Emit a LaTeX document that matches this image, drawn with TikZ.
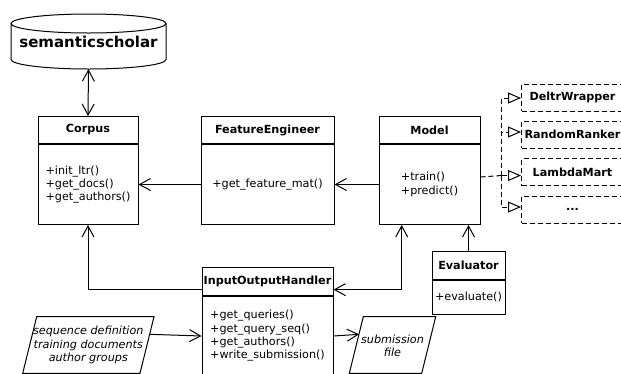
\documentclass[tikz,border=0pt]{standalone}
\usepackage{fontspec}
\setmainfont{DejaVu Sans}
\usetikzlibrary{arrows.meta,calc}

\tikzset{
  txt/.style={font=\fontsize{11.2}{13.3}\selectfont},
  hdr/.style={draw, line width=1pt, fill=white, inner sep=0pt, anchor=north,
    minimum height=27pt, font=\fontsize{11.2}{13.3}\selectfont\bfseries},
  bdy/.style={draw, line width=1pt, fill=white, inner sep=0pt, anchor=north,
    align=left, font=\fontsize{11.2}{13.3}\selectfont},
  subcls/.style={draw, line width=1pt, dash pattern=on 5pt off 3pt, fill=white,
    inner sep=0pt, anchor=west, minimum width=102pt, minimum height=27pt,
    font=\fontsize{11.2}{13.3}\selectfont\bfseries},
  iotxt/.style={inner sep=0pt, align=center,
    font=\fontsize{11.2}{13.3}\selectfont\itshape},
  arr/.style={line width=1pt, -{Straight Barb[length=11pt,width=12pt]}},
  dblarr/.style={line width=1pt,
    {Straight Barb[length=11pt,width=12pt]}-{Straight Barb[length=11pt,width=12pt]}},
  inherit/.style={line width=1pt, dash pattern=on 5pt off 3pt,
    -{Triangle[open,length=13pt,width=11pt]}},
  dashln/.style={line width=1pt, dash pattern=on 5pt off 3pt},
}

\begin{document}
\begin{tikzpicture}[x=1pt,y=-1pt]
\useasboundingbox (0,0) rectangle (621,373);
\fill[white] (0,0) rectangle (621,373);

% database cylinder
\draw[line width=1pt, fill=white] (11,23.5) -- (11,59.5)
  arc[start angle=180, end angle=0, x radius=77.5, y radius=9.5] -- (166,23.5);
\draw[line width=1pt, fill=white] (88.5,23.5) ellipse [x radius=77.5, y radius=9.5];
\node[inner sep=0pt, minimum width=155pt, minimum height=54.5pt,
  font=\fontsize{15}{18}\selectfont\bfseries] (db) at (88.5,41.75) {semanticscholar};

% classes
\node[hdr, minimum width=100pt] (corpus) at (88,116) {Corpus};
\node[bdy, minimum width=100pt, minimum height=80pt] (corpusb) at (corpus.south)
  {+init\_ltr()\\+get\_docs()\\+get\_authors()};

\node[hdr, minimum width=133pt] (fe) at (267.5,116) {FeatureEngineer};
\node[bdy, minimum width=133pt, minimum height=80pt] (feb) at (fe.south)
  {+get\_feature\_mat()};

\node[hdr, minimum width=101pt] (model) at (429.5,116) {Model};
\node[bdy, minimum width=101pt, minimum height=80pt] (modelb) at (model.south)
  {+train()\\+predict()};

\node[hdr, minimum width=73pt, minimum height=27.5pt] (evalh) at (468.5,251) {Evaluator};
\node[bdy, minimum width=73pt, minimum height=34.5pt] (evalb) at (evalh.south)
  {+evaluate()};

\node[hdr, minimum width=131pt, minimum height=27.7pt] (ioh) at (267.5,267.3) {InputOutputHandler};
\node[bdy, minimum width=131pt, minimum height=79pt] (iohb) at (ioh.south)
  {+get\_queries()\\+get\_query\_seq()\\+get\_authors()\\+write\_submission()};

% model implementations
\node[subcls] (deltr) at (521,97.5) {DeltrWrapper};
\node[subcls] (random) at (521,134.5) {RandomRanker};
\node[subcls] (lambda) at (521,172) {LambdaMart};
\node[subcls] (more) at (521,209.5) {...};

% input and output data
\draw[line width=1pt, fill=white] (22.7,373.3) -- (36.7,316.7) -- (154,316.7) -- (140,373.3) -- cycle;
\node[iotxt] (inp) at (88.3,345) {sequence definition\\training documents\\author groups};
\draw[line width=1pt, fill=white] (349.3,373.3) -- (363.3,316.7) -- (435.7,316.7) -- (421.7,373.3) -- cycle;
\node[iotxt] (outp) at (392.5,345.7) {submission\\file};
\coordinate (inpout) at (149.6,334.3);
\coordinate (outin) at (359,334.3);

% connectors
\draw[dblarr] (db.south) -- (corpus.north);
\draw[arr] (feb.west) -- (corpusb.east);
\draw[arr] (modelb.west) -- (feb.east);
\draw[arr] ($(ioh.west)+(0,8)$) -| (corpusb.south);
\draw[dblarr] ($(ioh.east)+(0,8)$) -| ($(modelb.south)+(-27.8,0)$);
\draw[arr] (evalh.north) -- (evalh.north |- modelb.south);
\draw[arr] (inpout) -- (iohb.west);
\draw[arr] (iohb.east) -- (outin);

% realisation links
\coordinate (fork) at (501.7,175.5);
\draw[dashln] ($(modelb.east)+(0,-7.5)$) -- (fork);
\draw[inherit] (fork) |- ($(deltr.west)+(0,0.5)$);
\draw[inherit] (fork) |- ($(random.west)+(0,-2.5)$);
\draw[inherit] (fork) -- ($(lambda.west)+(0,3.5)$);
\draw[inherit] (fork) |- ($(more.west)+(0,-2.5)$);
\end{tikzpicture}
\end{document}
